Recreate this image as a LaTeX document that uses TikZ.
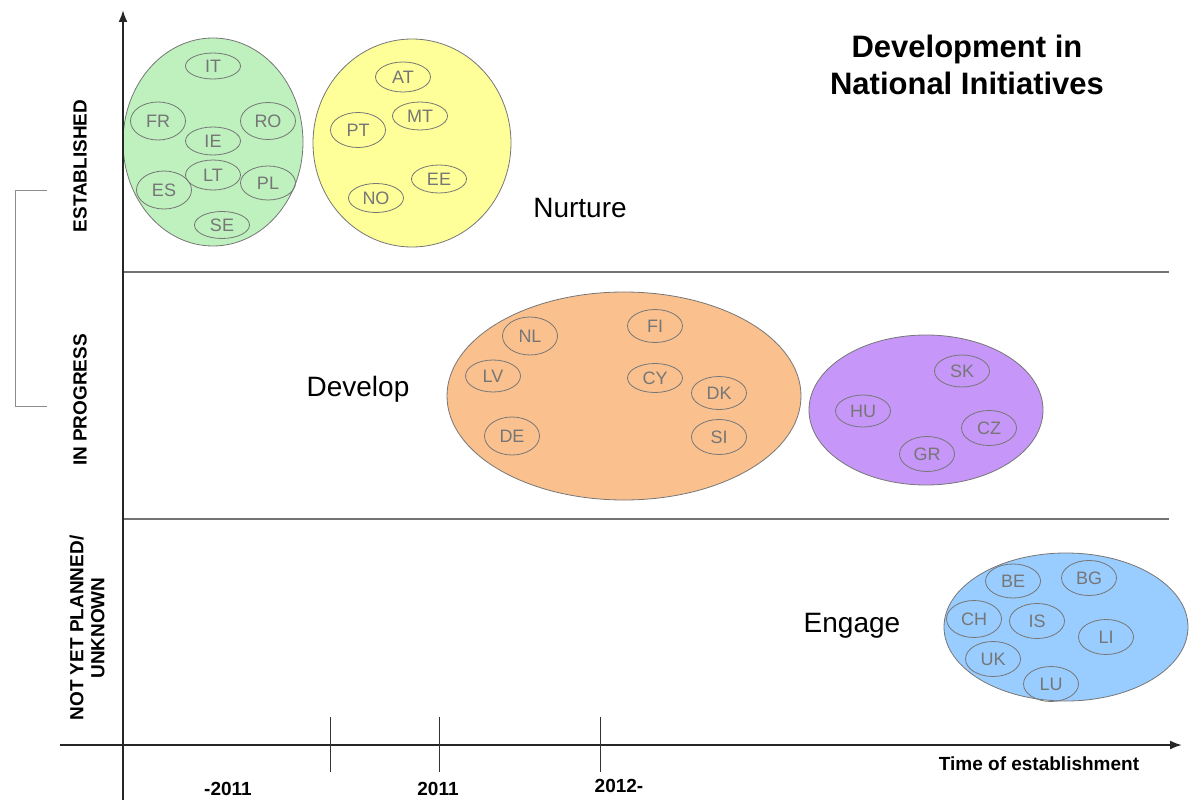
\documentclass[tikz,border=0pt]{standalone}
\usepackage{fontspec}
\setmainfont{Liberation Sans}
\usetikzlibrary{shapes.geometric,arrows.meta}

\definecolor{nurtureGreen}{RGB}{190,241,190}
\definecolor{nurtureYellow}{RGB}{255,255,153}
\definecolor{developOrange}{RGB}{250,193,143}
\definecolor{developPurple}{RGB}{198,150,248}
\definecolor{engageBlue}{RGB}{153,204,255}
\definecolor{countryGrey}{RGB}{118,118,118}

\tikzset{
	group/.style = {draw = countryGrey, line width = 0.8pt},
	country/.style = {ellipse, draw = countryGrey, line width = 0.8pt, minimum width = 55pt, minimum height = 33pt, inner sep = 0pt, text = countryGrey, font = \fontsize{18pt}{18pt}\selectfont},
	phase/.style = {font = \fontsize{28pt}{28pt}\selectfont},
	level/.style = {rotate = 90, font = \fontsize{19pt}{21pt}\selectfont\bfseries, align = center},
	year/.style = {font = \fontsize{19pt}{19pt}\selectfont\bfseries, inner sep = 1pt},
	axis/.style = {line width = 2pt, draw = black!85},
	divider/.style = {line width = 1.4pt, draw = black!55}
}

\begin{document}
\begin{tikzpicture}[x = 1pt, y = -1pt]

	\useasboundingbox (0, 0) rectangle (1189, 800);

	% large ellipses for the groups of countries
	\fill[nurtureGreen] (213, 142) circle [x radius = 90, y radius = 104];
	\draw[group] (213, 142) circle [x radius = 90, y radius = 104];
	\fill[nurtureYellow] (412, 143) circle [x radius = 99, y radius = 104];
	\draw[group] (412, 143) circle [x radius = 99, y radius = 104];
	\fill[developOrange] (624, 396) circle [x radius = 177, y radius = 104];
	\draw[group] (624, 396) circle [x radius = 177, y radius = 104];
	\fill[developPurple] (926, 410) circle [x radius = 117, y radius = 75];
	\draw[group] (926, 410) circle [x radius = 117, y radius = 75];
	\fill[engageBlue] (1066, 627) circle [x radius = 122, y radius = 74];
	\draw[group] (1066, 627) circle [x radius = 122, y radius = 74];

	% established countries
	\node[country, minimum height = 26pt] (it) at (213, 66) {IT};
	\node[country, minimum height = 38pt] (fr) at (158, 121) {FR};
	\node[country, minimum height = 28pt] (ie) at (213, 141) {IE};
	\node[country, minimum height = 37pt] (ro) at (268, 121) {RO};
	\node[country, minimum height = 30pt] (lt) at (213, 175) {LT};
	\node[country, minimum height = 38pt] (es) at (164, 190) {ES};
	\node[country, minimum height = 34pt] (pl) at (268, 183) {PL};
	\node[country, minimum height = 27pt] (se) at (222, 225) {SE};

	\node[country, minimum height = 30pt] (at) at (403, 77) {AT};
	\node[country, minimum height = 35pt] (pt) at (358, 130) {PT};
	\node[country, minimum height = 28pt] (mt) at (420, 116) {MT};
	\node[country, minimum height = 29pt] (no) at (376, 198) {NO};
	\node[country, minimum height = 28pt] (ee) at (439, 179) {EE};

	% countries in progress
	\node[country, minimum height = 38pt] (nl) at (530, 336) {NL};
	\node[country, minimum height = 32pt] (lv) at (493, 376) {LV};
	\node[country, minimum height = 38pt] (de) at (512, 436) {DE};
	\node[country] (fi) at (655, 326) {FI};
	\node[country, minimum height = 29pt] (cy) at (655, 378) {CY};
	\node[country] (dk) at (719, 393) {DK};
	\node[country, minimum height = 35pt] (si) at (719, 437) {SI};

	\node[country, minimum height = 32pt] (hu) at (863, 411) {HU};
	\node[country, minimum height = 32pt] (sk) at (962, 371) {SK};
	\node[country, minimum height = 35pt] (cz) at (989, 428) {CZ};
	\node[country, minimum height = 35pt] (gr) at (927, 454) {GR};

	% countries not yet planned
	\node[country, minimum height = 34pt] (be) at (1013, 581) {BE};
	\node[country, minimum height = 35pt] (bg) at (1089, 578) {BG};
	\node[country, minimum height = 37pt] (ch) at (974, 619) {CH};
	\node[country, minimum height = 35pt] (is) at (1037, 621) {IS};
	\node[country, minimum height = 35pt] (li) at (1106, 637) {LI};
	\node[country, minimum height = 35pt] (uk) at (993, 659) {UK};
	\node[country, minimum height = 35pt] (lu) at (1051, 684) {LU};

	% phase names
	\node[phase] (nurture) at (580, 208) {Nurture};
	\node[phase] (develop) at (358, 389) {Develop};
	\node[phase] (engage) at (852, 626) {Engage};

	% title
	\node[font = \fontsize{31pt}{37pt}\selectfont\bfseries, align = center] (title) at (967, 65) {Development in\\National Initiatives};

	% dividers between the levels
	\draw[divider] (123, 272) -- (1169, 272);
	\draw[divider] (123, 519) -- (1169, 519);

	% bracket on the left
	\draw[black!45, line width = 0.8pt] (47, 190) -- (15, 190) -- (15, 406) -- (47, 406);

	% axes
	\coordinate (yStart) at (123, 800);
	\coordinate (yEnd) at (123, 10);
	\coordinate (xStart) at (60, 745);
	\coordinate (xEnd) at (1182, 745);
	\draw[axis, -{Latex[length = 12pt, width = 9pt]}] (yStart) -- (yEnd);
	\draw[axis, -{Latex[length = 12pt, width = 9pt]}] (xStart) -- (xEnd);

	% ticks on the time axis
	\foreach \tickX in {330, 439, 600} {
		\draw[line width = 1pt, black!80] (\tickX, 717) -- (\tickX, 772);
	}

	% level labels
	\node[level] (established) at (80, 166) {ESTABLISHED};
	\node[level] (inProgress) at (80, 400) {IN PROGRESS};
	\node[level] (notYet) at (87, 628) {NOT YET PLANNED/\\UNKNOWN};

	% year labels
	\node[year] (before) at (228, 789) {-2011};
	\node[year] (during) at (438, 789) {2011};
	\node[year] (after) at (619, 786) {2012-};
	\node[year] (time) at (1039, 764) {Time of establishment};

\end{tikzpicture}
\end{document}
